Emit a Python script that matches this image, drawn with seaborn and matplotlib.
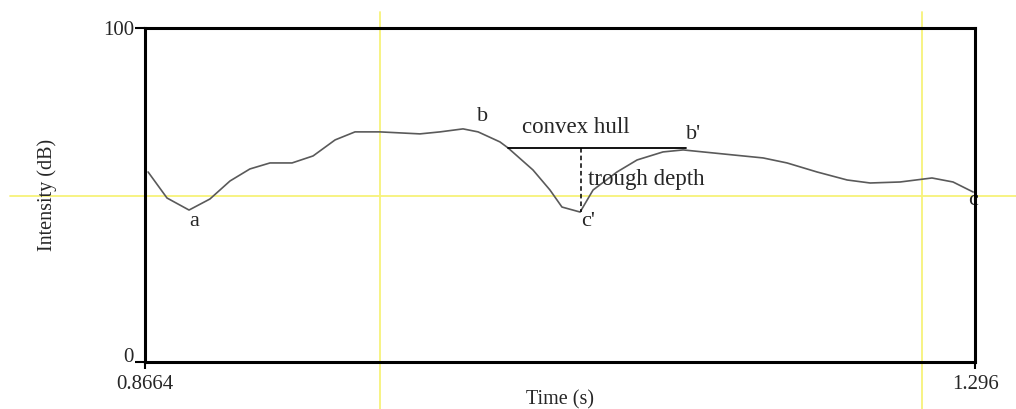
import matplotlib
matplotlib.use("Agg")
import matplotlib.pyplot as plt
import pandas as pd
import seaborn as sns

# Intensity contour
time_s = [0.8680, 0.8778, 0.8892, 0.9000, 0.9104, 0.9207, 0.9311, 0.9425, 0.9534,
          0.9648, 0.9751, 0.9880, 0.9984, 1.0087, 1.0191, 1.0310, 1.0388, 1.0501,
          1.0543, 1.0672, 1.0760, 1.0822, 1.0916, 1.0983, 1.1107, 1.1211, 1.1345,
          1.1449, 1.1552, 1.1707, 1.1863, 1.1987, 1.2142, 1.2298, 1.2417, 1.2572,
          1.2737, 1.2846, 1.2950]
intensity_db = [56.9, 49.1, 45.5, 48.8, 54.2, 57.8, 59.6, 59.6, 61.7,
                66.5, 68.9, 68.9, 68.6, 68.3, 68.9, 69.8, 68.9, 65.9,
                64.1, 57.5, 51.5, 46.4, 44.9, 51.5, 56.9, 60.5, 62.9,
                63.5, 62.9, 62.0, 61.1, 59.6, 56.9, 54.5, 53.6, 53.9,
                55.1, 53.9, 50.9]

hull_t = [1.0543, 1.1464]
hull_db = 64.1
trough_t = 1.0921
trough_db = 44.9

cursor_times = [0.9880, 1.2686]
cursor_db = 49.7

x_ticks = [0.8664, 1.296]
x_tick_labels = ["0.8664", "1.296"]
y_ticks = [0, 100]
y_tick_labels = ["0", "100"]

# point labels: text, time, dB
point_labels = [("a", 0.8920, 42.0), ("b", 1.0413, 73.5), ("b'", 1.1505, 68.0),
                ("c'", 1.0956, 42.0), ("c", 1.2950, 48.5)]

df = pd.DataFrame({"time": time_s, "intensity": intensity_db})

sns.set_style("white")
plt.rcParams["font.family"] = ["Liberation Serif", "DejaVu Serif"]

fig = plt.figure(figsize=(10.16, 4.09), dpi=100)
ax = fig.add_axes([0.1427, 0.1149, 0.8170, 0.8166])

yellow = "#f7f27a"
for t in cursor_times:
    ax.axvline(t, ymin=-0.141, ymax=1.048, color=yellow, lw=1.3, clip_on=False, zorder=0)
ax.axhline(cursor_db, xmin=-0.163, xmax=1.05, color=yellow, lw=1.3, clip_on=False, zorder=0)

sns.lineplot(data=df, x="time", y="intensity", ax=ax, color="#5a5a5a", lw=1.2, zorder=3)

# convex hull and trough depth
ax.plot(hull_t, [hull_db, hull_db], color="black", lw=1.3, zorder=4)
ax.plot([trough_t, trough_t], [hull_db, trough_db], color="black", lw=1.1, ls=(0, (3, 2)), zorder=4)

ax.text(sum(hull_t) / 2 - 0.0110, 67.0, "convex hull", fontsize=16.5, ha="center", va="bottom")
ax.text(1.0955, 51.5, "trough depth", fontsize=16.5, ha="left", va="bottom")
for txt, t, db in point_labels:
    ax.text(t, db, txt, fontsize=16, ha="center", va="center")

ax.set_xlim(0.8664, 1.296)
ax.set_ylim(0, 100)
ax.set_xticks(x_ticks)
ax.set_xticklabels(x_tick_labels, fontsize=15)
ax.set_yticks(y_ticks)
ax.set_yticklabels(y_tick_labels, fontsize=15)
ax.tick_params(axis="y", direction="out", length=7, width=1.5, color="black", pad=1, left=True)
ax.tick_params(axis="x", direction="out", length=5, width=1.5, color="black", pad=4, bottom=True)
ax.get_yticklabels()[0].set_va("baseline")

ax.set_xlabel("Time (s)", fontsize=14.5, labelpad=-2)
ax.set_ylabel("Intensity (dB)", fontsize=14.5, labelpad=33)

for s in ax.spines.values():
    s.set_visible(True)
    s.set_color("black")
    s.set_linewidth(2.2)
    s.set_zorder(5)

fig.savefig("out.png", dpi=100)
